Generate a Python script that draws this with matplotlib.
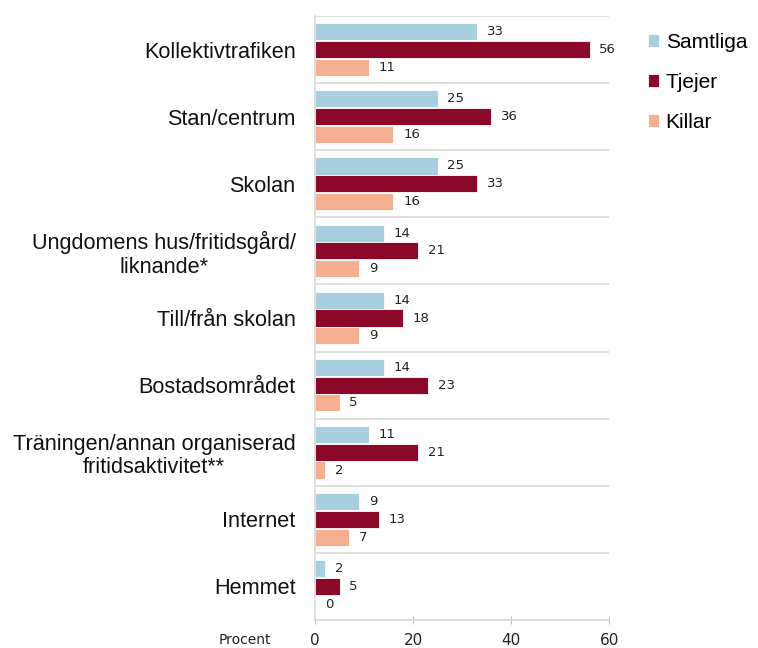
import matplotlib.pyplot as plt
import numpy as np

categories = ['Kollektivtrafiken', 'Stan/centrum', 'Skolan',
              'Ungdomens hus/fritidsgård/\nliknande*', 'Till/från skolan',
              'Bostadsområdet', 'Träningen/annan organiserad\nfritidsaktivitet**',
              'Internet', 'Hemmet']
samtliga = [33, 25, 25, 14, 14, 14, 11, 9, 2]
tjejer = [56, 36, 33, 21, 18, 23, 21, 13, 5]
killar = [11, 16, 16, 9, 9, 5, 2, 7, 0]
series_names = ['Samtliga', 'Tjejer', 'Killar']
colors = ['#A8CFE0', '#8B0828', '#F7AF91']
x_ticks = [0, 20, 40, 60]

fig = plt.figure(figsize=(7.58, 6.48), dpi=100)
ax = fig.add_axes([0.4156, 0.0432, 0.388, 0.9321])

y = np.arange(len(categories))
h = 0.255
offsets = [-0.265, 0, 0.265]
for vals, off, col, name in zip([samtliga, tjejer, killar], offsets, colors, series_names):
    ax.barh(y + off, vals, height=h, color=col, label=name, edgecolor='white', linewidth=0.6)
    for yi, v in zip(y, vals):
        ax.text(v + 2.0, yi + off, str(v), va='center', ha='left', fontsize=9.5,
                family='DejaVu Sans', color='#222222')

ax.set_ylim(len(categories) - 0.5, -0.5)
ax.set_xlim(0, 60)
ax.set_xticks(x_ticks)
ax.tick_params(axis='x', labelsize=11, colors='#BFBFBF', labelcolor='#222222',
               direction='inout', length=6, pad=6)
ax.set_yticks(y)
ax.set_yticklabels(categories, fontsize=15.6, family='Liberation Sans',
                   ha='right', multialignment='center', color='#111111', linespacing=1.15)
ax.tick_params(axis='y', length=0, pad=14)
for b in np.arange(-0.5, len(categories), 1.0):
    ax.axhline(b, color='#D9D9D9', lw=1.2, zorder=0)
for s in ['top', 'right']:
    ax.spines[s].set_visible(False)
ax.spines['left'].set_color('#D9D9D9')
ax.spines['bottom'].set_color('#D9D9D9')
ax.spines['left'].set_linewidth(1.2)
ax.spines['bottom'].set_linewidth(1.2)

fig.text(0.323, 0.002, 'Procent', fontsize=10, ha='center', va='bottom', color='#222222')

leg = fig.legend(loc='upper left', bbox_to_anchor=(0.83, 0.978), frameon=False,
                 prop={'family': 'Liberation Sans', 'size': 15}, handlelength=0.55,
                 handleheight=0.55, handletextpad=0.3, labelspacing=1.0)

fig.savefig('out.png', dpi=100)
